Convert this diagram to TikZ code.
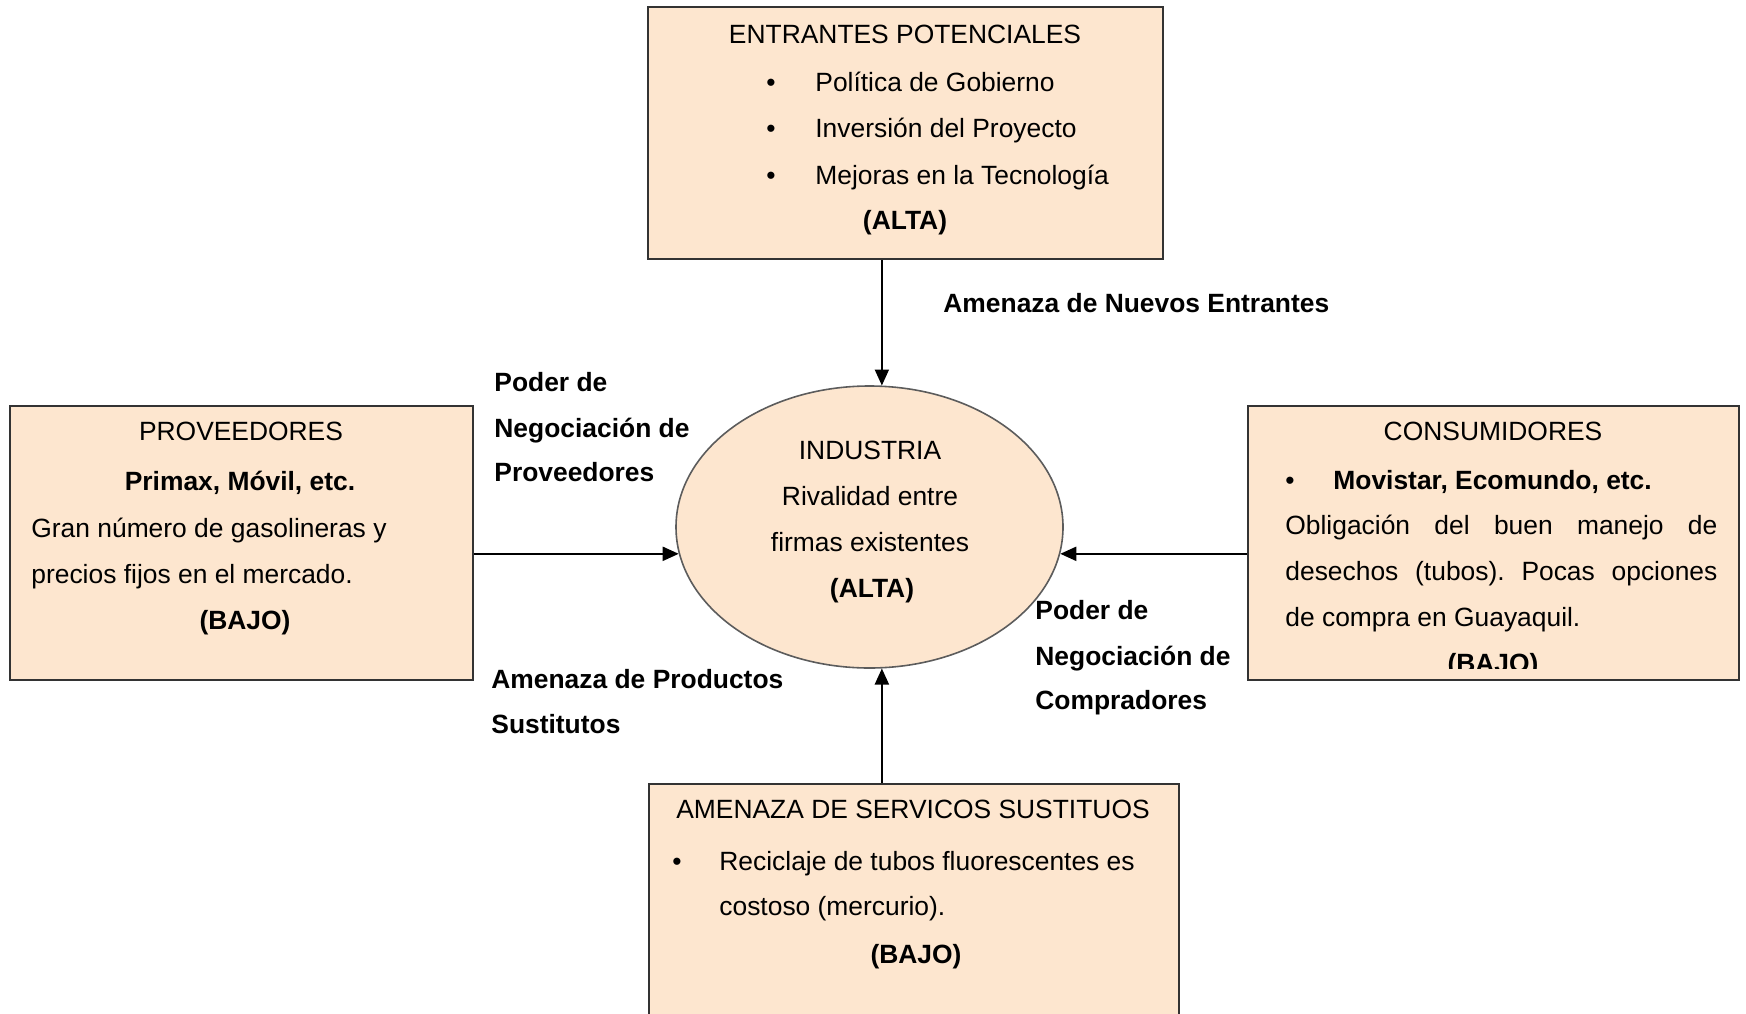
\documentclass[tikz,border=0pt]{standalone}
\usepackage{fontspec}
\setmainfont{Liberation Sans}
\usepackage{tikz}
\usetikzlibrary{arrows.meta,shapes.geometric,calc}
\usepackage{xcolor}
\definecolor{PorterFill}{HTML}{FDE6CF}
\definecolor{PorterLine}{HTML}{333333}
\tikzset{
  forcebox/.style={draw=PorterLine,line width=1.3pt,fill=PorterFill,inner sep=0pt},
  txt/.style={inner sep=0pt,anchor=base west,font=\fontsize{13.2}{23}\selectfont},
  ctxt/.style={txt,anchor=base},
  btxt/.style={txt,font=\fontsize{13.2}{23}\selectfont\bfseries},
  cbtxt/.style={btxt,anchor=base},
  bulletmark/.style={txt,anchor=base},
  force/.style={-{Triangle[length=8pt,width=7pt]},line width=1pt,black}
}
\frenchspacing

\begin{document}
\begin{tikzpicture}[x=0.5pt,y=-0.5pt]
  \useasboundingbox (0,0) rectangle (1746,1013);
  \clip (0,0) rectangle (1746,1013);

  % boxes
  \node[forcebox,minimum width=257.5pt,minimum height=126pt] (ent) at (905.5,133) {};
  \node[forcebox,minimum width=231.5pt,minimum height=137pt] (prov) at (241.5,543) {};
  \node[forcebox,minimum width=245.5pt,minimum height=137pt] (cons) at (1493.5,543) {};
  \node[forcebox,minimum width=265pt,minimum height=128pt] (sust) at (914,912) {};
  \node[ellipse,draw=PorterLine!80,line width=0.8pt,fill=PorterFill,inner sep=0pt,
        minimum width=193.5pt,minimum height=141pt] (ind) at (869.5,527) {};

  % entrantes potenciales
  \node[ctxt] (entTitle) at (905,43) {ENTRANTES POTENCIALES};
  \node[bulletmark] (entB1) at (771,91) {\textbullet};
  \node[txt] (entL1) at (815,91) {Política de Gobierno};
  \node[bulletmark] (entB2) at (771,137) {\textbullet};
  \node[txt] (entL2) at (815,137) {Inversión del Proyecto};
  \node[bulletmark] (entB3) at (771,184) {\textbullet};
  \node[txt] (entL3) at (815,184) {Mejoras en la Tecnología};
  \node[cbtxt] (entLevel) at (905,229) {(ALTA)};

  % proveedores
  \node[ctxt] (provTitle) at (241,440) {PROVEEDORES};
  \node[cbtxt] (provNames) at (240,490) {Primax, Móvil, etc.};
  \node[txt] (provL1) at (31,537) {Gran número de gasolineras y};
  \node[txt] (provL2) at (31,583) {precios fijos en el mercado.};
  \node[cbtxt] (provLevel) at (245,629) {(BAJO)};

  % consumidores
  \node[ctxt] (consTitle) at (1493,440) {CONSUMIDORES};
  \node[bulletmark] (consB1) at (1290,489) {\textbullet};
  \node[btxt] (consNames) at (1333,489) {Movistar, Ecomundo, etc.};
  \node[txt] (consL1) at (1285,534) {\makebox[216pt][s]{Obligación del buen manejo de}};
  \node[txt] (consL2) at (1285,580) {\makebox[216pt][s]{desechos (tubos). Pocas opciones}};
  \node[txt] (consL3) at (1285,626) {de compra en Guayaquil.};
  \begin{scope}
    \clip (1250,406) rectangle (1738,668);
    \node[cbtxt] (consLevel) at (1493,672) {(BAJO)};
  \end{scope}

  % sustitutos
  \node[ctxt] (sustTitle) at (913,818) {AMENAZA DE SERVICOS SUSTITUOS};
  \node[bulletmark] (sustB1) at (677,870) {\textbullet};
  \node[txt] (sustL1) at (719,870) {Reciclaje de tubos fluorescentes es};
  \node[txt] (sustL2) at (719,915) {costoso (mercurio).};
  \node[cbtxt] (sustLevel) at (916,963) {(BAJO)};

  % industria
  \node[ctxt] (indTitle) at (870,459) {INDUSTRIA};
  \node[ctxt] (indL1) at (870,505) {Rivalidad entre};
  \node[ctxt] (indL2) at (870,551) {firmas existentes};
  \node[cbtxt] (indLevel) at (872,597) {(ALTA)};

  % forces
  \draw[force] (ent.south -| ind.85.3) -- (ind.85.3);
  \draw[force] (sust.north -| ind.-85.3) -- (ind.-85.3);
  \draw[force] (prov.east |- ind.188.7) -- (ind.188.7);
  \draw[force] (cons.west |- ind.-8.7) -- (ind.-8.7);

  % labels
  \node[btxt] (lblNuevos) at (943,312) {Amenaza de Nuevos Entrantes};
  \node[btxt] (lblProv1) at (494,391) {Poder de};
  \node[btxt] (lblProv2) at (494,437) {Negociación de};
  \node[btxt] (lblProv3) at (494,481) {Proveedores};
  \node[btxt] (lblSust1) at (491,688) {Amenaza de Productos};
  \node[btxt] (lblSust2) at (491,733) {Sustitutos};
  \node[btxt] (lblComp1) at (1035,619) {Poder de};
  \node[btxt] (lblComp2) at (1035,665) {Negociación de};
  \node[btxt] (lblComp3) at (1035,709) {Compradores};
\end{tikzpicture}
\end{document}
